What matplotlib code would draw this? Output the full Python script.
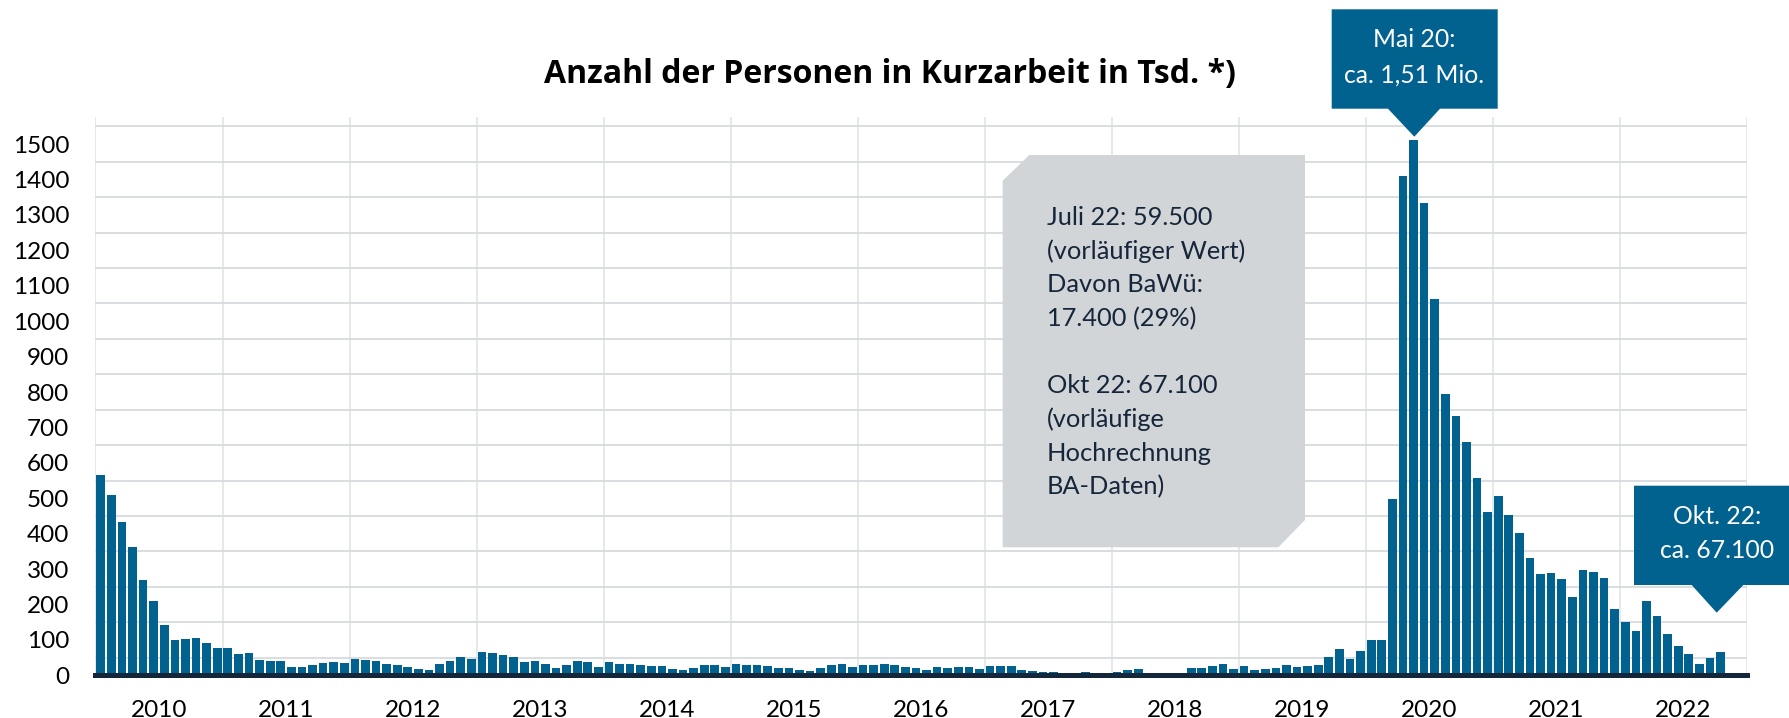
import matplotlib
matplotlib.use("Agg")
import matplotlib.pyplot as plt
from matplotlib.patches import Polygon
import numpy as np

plt.rcParams['font.family'] = ['Lato', 'DejaVu Sans']

# ---------------- data (Tsd. Personen in Kurzarbeit, monthly) ----------------
years = ["2010", "2011", "2012", "2013", "2014", "2015", "2016",
         "2017", "2018", "2019", "2020", "2021", "2022"]
v2010 = [566, 509, 434, 362, 268, 211, 143, 101, 103, 106, 91, 76]
v2011 = [76, 60, 62, 44, 41, 39, 24, 24, 29, 34, 37, 35]
v2012 = [46, 44, 41, 33, 29, 24, 18, 15, 32, 41, 52, 46]
v2013 = [65, 62, 57, 52, 37, 39, 33, 21, 28, 40, 37, 23]
v2014 = [38, 32, 31, 29, 26, 26, 18, 15, 20, 28, 29, 23]
v2015 = [31, 29, 28, 27, 21, 21, 15, 11, 22, 28, 32, 24]
v2016 = [30, 30, 33, 29, 23, 22, 14, 23, 20, 23, 23, 18]
v2017 = [26, 26, 27, 16, 12, 10, 9, 7, 7, 10, 7, 7]
v2018 = [8, 16, 19, 0, 0, 0, 0, 21, 22, 25, 31, 17]
v2019 = [27, 16, 18, 22, 29, 23, 26, 30, 51, 73, 45, 69]
v2020 = [101, 101, 499, 1409, 1512, 1335, 1062, 795, 731, 659, 557, 460]
v2021 = [505, 453, 403, 330, 285, 288, 271, 221, 298, 293, 276, 187]
v2022 = [151, 125, 209, 168, 116, 83, 59.5, 33, 49, 67.1]
y_ticks = list(range(0, 1501, 100))

title = "Anzahl der Personen in Kurzarbeit in Tsd. *)"
callout_peak = ["Mai 20:", "ca. 1,51 Mio."]
callout_last = ["Okt. 22:", "ca. 67.100"]
note_lines = ["Juli 22: 59.500", "(vorläufiger Wert)", "Davon BaWü:", "17.400 (29%)",
              "", "Okt 22: 67.100", "(vorläufige", "Hochrechnung", "BA-Daten)"]

values = np.array(v2010 + v2011 + v2012 + v2013 + v2014 + v2015 + v2016 +
                  v2017 + v2018 + v2019 + v2020 + v2021 + v2022, dtype=float)

# ---------------- styling ----------------
W, H = 1790, 718
BAR = "#01628f"
BASE = "#13263a"
GRID_H = "#d8dbde"
GRID_V = "#e4e7ea"
GREY_BOX = "#d1d5d8"
NOTE_TXT = "#16263a"

def fx(px):
    return px / W

def fy(py):
    return 1 - py / H

fig = plt.figure(figsize=(W / 100, H / 100), dpi=100)
ax_l, ax_r, ax_t, ax_b = 95.5, 1747, 116.5, 675.3
ax = fig.add_axes([fx(ax_l), fy(ax_b), fx(ax_r) - fx(ax_l), fy(ax_t) - fy(ax_b)])

n_slots = 12 * len(years)
x = np.arange(len(values)) + 0.5
ax.bar(x, values, width=0.82, color=BAR, zorder=2, linewidth=0)

ax.set_xlim(0, n_slots)
ax.set_ylim(0, 1578)

# grid
ax.set_yticks(y_ticks)
ax.set_yticks(np.arange(50, 1551, 50), minor=True)
ax.set_xticks(np.arange(6, n_slots, 12))
ax.set_xticklabels(years)
ax.set_xticks(np.arange(0, n_slots + 1, 12), minor=True)
ax.grid(which='minor', axis='y', color=GRID_H, linewidth=1.3, zorder=0)
ax.grid(which='minor', axis='x', color=GRID_V, linewidth=1.3, zorder=0)
ax.set_axisbelow(True)
ax.tick_params(which='both', length=0)
ax.tick_params(axis='y', pad=19, labelsize=17.5, labelcolor='black')
ax.tick_params(axis='x', pad=17.5, labelsize=17.5, labelcolor='black')
for s in ax.spines.values():
    s.set_visible(False)
ax.axhline(0, color=BASE, linewidth=3.6, zorder=3, clip_on=False)

# title
fig.text(fx(890), fy(75), title, ha='center', va='center',
         fontsize=23, fontweight='bold', color='black',
         family=['Open Sans', 'DejaVu Sans'])

# grey note box (chamfered corners)
gb = [(1002.7, 180.7), (1029.3, 155), (1305, 155), (1305, 520),
      (1278.3, 547.3), (1002.7, 547.3)]
fig.patches.append(Polygon([(fx(a), fy(b)) for a, b in gb], closed=True,
                           transform=fig.transFigure, facecolor=GREY_BOX,
                           edgecolor='none', zorder=5))
for i, line in enumerate(note_lines):
    if line:
        fig.text(fx(1046.7), fy(217.3 + i * 33.7), line, ha='left', va='center',
                 fontsize=18.3, color=NOTE_TXT, zorder=6)

# callouts
def callout(x1, x2, y1, y2, b1, b2, tip, lines, tx, ty, dy):
    pts = [(x1, y1), (x2, y1), (x2, y2), (b2, y2), tip, (b1, y2), (x1, y2)]
    fig.patches.append(Polygon([(fx(a), fy(b)) for a, b in pts], closed=True,
                               transform=fig.transFigure, facecolor=BAR,
                               edgecolor='none', zorder=5))
    for i, line in enumerate(lines):
        fig.text(fx(tx), fy(ty + i * dy), line, ha='center', va='center',
                 fontsize=17.8, color='white', zorder=6)

callout(1331.7, 1497.7, 9.3, 108.7, 1388, 1440, (1414.3, 136.7),
        callout_peak, 1414.5, 39.5, 35.5)
callout(1634, 1792, 485.7, 585, 1691.7, 1743.3, (1716.7, 612.7),
        callout_last, 1716.7, 516.7, 33.5)

fig.savefig("out.png", dpi=100)
